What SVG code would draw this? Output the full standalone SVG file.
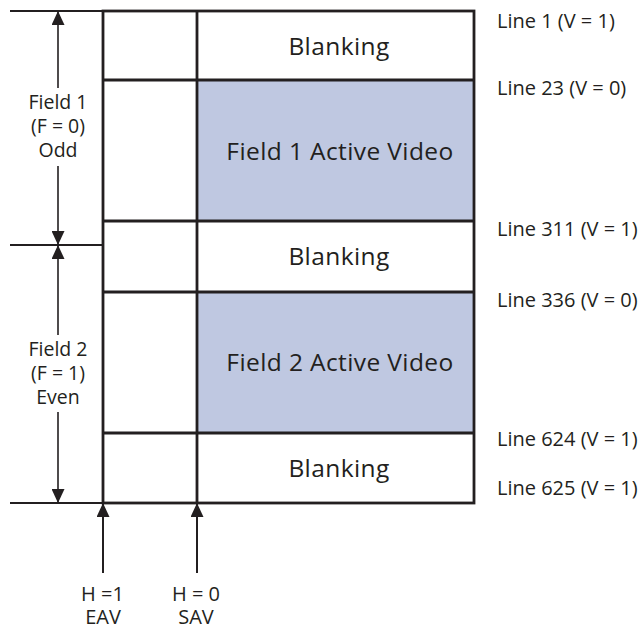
<svg xmlns="http://www.w3.org/2000/svg" width="643" height="629" viewBox="0 0 643 629">
<style>
  text { font-family: "Open Sans", "Liberation Sans", sans-serif; fill: #231f20; }
  .big { font-size: 24.5px; letter-spacing: 0.4px; text-anchor: middle; }
  .side { font-size: 19.5px; text-anchor: middle; }
  .lbl { font-size: 20px; }
  .bot { font-size: 20px; text-anchor: middle; }
  .box { fill: none; stroke: #231f20; stroke-width: 2.8; }
  .div { stroke: #231f20; stroke-width: 2.8; }
  .tick { stroke: #231f20; stroke-width: 1.8; }
  .act { fill: #bfc8e1; stroke: none; }
  .arr { stroke: #231f20; stroke-width: 1.6; fill: none; marker-end: url(#ah); }
  .arr2 { stroke: #231f20; stroke-width: 2; fill: none; marker-end: url(#ah); }
</style>
<defs>
  <marker id="ah" viewBox="0 0 14 13" refX="14" refY="6.5" markerWidth="14" markerHeight="13" markerUnits="userSpaceOnUse" orient="auto">
    <path d="M0,0 L14,6.5 L0,13 z" fill="#231f20"/>
  </marker>
</defs>

<g id="active-fills">
  <rect class="act" x="197" y="80" width="277" height="141"/>
  <rect class="act" x="197" y="292" width="277" height="141"/>
</g>

<g id="frame">
  <line class="tick" x1="10" y1="11" x2="103" y2="11"/>
  <line class="tick" x1="10" y1="245" x2="103" y2="245"/>
  <line class="tick" x1="10" y1="503" x2="103" y2="503"/>
  <rect class="box" x="103" y="11" width="371" height="492"/>
  <line class="div" x1="197" y1="11" x2="197" y2="503"/>
  <line class="div" x1="103" y1="80" x2="474" y2="80"/>
  <line class="div" x1="103" y1="221" x2="474" y2="221"/>
  <line class="div" x1="103" y1="292" x2="474" y2="292"/>
  <line class="div" x1="103" y1="433" x2="474" y2="433"/>
</g>

<g id="blanking-1"><text class="big" x="339" y="55">Blanking</text></g>
<g id="field1-active"><text class="big" x="340" y="160">Field 1 Active Video</text></g>
<g id="blanking-2"><text class="big" x="339" y="265">Blanking</text></g>
<g id="field2-active"><text class="big" x="340" y="371">Field 2 Active Video</text></g>
<g id="blanking-3"><text class="big" x="339" y="477">Blanking</text></g>

<g id="connectors">
  <line class="arr" x1="58" y1="88" x2="58" y2="11"/>
  <line class="arr" x1="58" y1="166" x2="58" y2="245"/>
  <line class="arr" x1="58" y1="335" x2="58" y2="245"/>
  <line class="arr" x1="58" y1="412" x2="58" y2="503"/>
  <line class="arr2" x1="103" y1="573" x2="103" y2="503"/>
  <line class="arr2" x1="197" y1="573" x2="197" y2="503"/>
</g>

<g id="field1-label">
  <text class="side" x="58" y="109">Field 1</text>
  <text class="side" x="58" y="133">(F = 0)</text>
  <text class="side" x="58" y="157">Odd</text>
</g>
<g id="field2-label">
  <text class="side" x="58" y="356">Field 2</text>
  <text class="side" x="58" y="380">(F = 1)</text>
  <text class="side" x="58" y="404">Even</text>
</g>

<g id="line-labels">
  <text class="lbl" x="497" y="28">Line 1 (V = 1)</text>
  <text class="lbl" x="497" y="95">Line 23 (V = 0)</text>
  <text class="lbl" x="497" y="236">Line 311 (V = 1)</text>
  <text class="lbl" x="497" y="307">Line 336 (V = 0)</text>
  <text class="lbl" x="497" y="446">Line 624 (V = 1)</text>
  <text class="lbl" x="497" y="495">Line 625 (V = 1)</text>
</g>

<g id="eav-label">
  <text class="bot" x="102.5" y="601">H =1</text>
  <text class="bot" x="103" y="624">EAV</text>
</g>
<g id="sav-label">
  <text class="bot" x="196" y="601">H = 0</text>
  <text class="bot" x="196" y="624">SAV</text>
</g>
</svg>
